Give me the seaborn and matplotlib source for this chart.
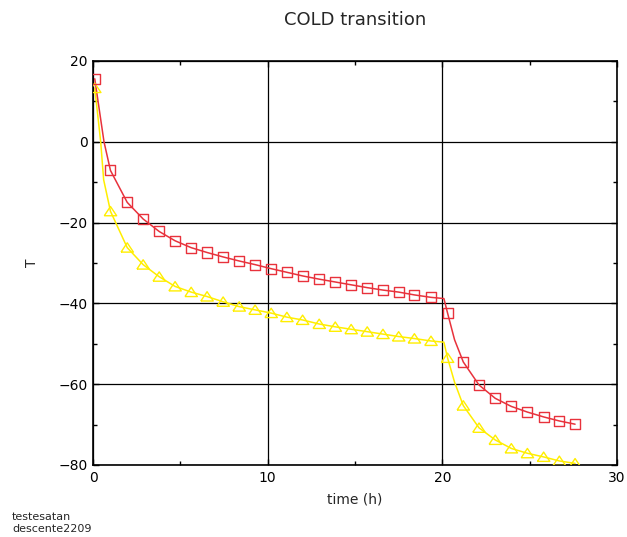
import numpy as np
import pandas as pd
import matplotlib
matplotlib.use("Agg")
import matplotlib.pyplot as plt
from matplotlib.ticker import MultipleLocator
import seaborn as sns

# marker sample times (h)
t_mark = [0.1, 1.0, 1.96, 2.87, 3.79, 4.7, 5.62, 6.53, 7.45, 8.37, 9.28, 10.2, 11.1, 12.0,
          12.95, 13.87, 14.78, 15.7, 16.6, 17.5, 18.4, 19.35, 20.3, 21.2, 22.1, 23.03,
          23.95, 24.87, 25.8, 26.7, 27.6]
red_mark = [15.6, -7.1, -15.0, -19.1, -22.2, -24.5, -26.2, -27.4, -28.5, -29.5, -30.4,
            -31.4, -32.3, -33.2, -34.0, -34.7, -35.4, -36.1, -36.7, -37.2, -37.9, -38.5,
            -42.4, -54.5, -60.2, -63.5, -65.5, -66.9, -68.1, -69.1, -69.9]
yel_mark = [13.3, -17.2, -26.2, -30.4, -33.4, -35.8, -37.2, -38.3, -39.6, -40.8, -41.6,
            -42.4, -43.4, -44.1, -45.1, -45.8, -46.4, -47.0, -47.6, -48.2, -48.7, -49.3,
            -53.5, -65.3, -70.8, -73.8, -75.9, -77.1, -78.0, -79.0, -79.6]

# extra points (between markers)
red_extra_t = [0.63, 20.09, 20.7]
red_extra_v = [0.0, -38.8, -49.0]
yel_extra_t = [0.44, 0.61, 20.09, 20.7]
yel_extra_v = [0.0, -9.4, -49.6, -59.5]

title = "COLD transition"
xlabel = "time (h)"
ylabel = "T"
footer = ["testesatan", "descente2209"]

RED = "#e8323c"
YEL = "#ffee00"

red_line = pd.DataFrame({"t": t_mark + red_extra_t, "v": red_mark + red_extra_v}).sort_values("t")
yel_line = pd.DataFrame({"t": t_mark + yel_extra_t, "v": yel_mark + yel_extra_v}).sort_values("t")

sns.set_style("white")
plt.rcParams["font.family"] = ["DejaVu Sans"]

fig = plt.figure(figsize=(6.27, 5.37), dpi=100)
ax = fig.add_axes([93/627, 1-465/537, (617-93)/627, (465-61)/537])

sns.lineplot(data=yel_line, x="t", y="v", ax=ax, color=YEL, lw=1.1, sort=False, zorder=3)
sns.lineplot(data=red_line, x="t", y="v", ax=ax, color=RED, lw=1.1, sort=False, zorder=4)

tri = [(-1, -0.72), (1, -0.72), (0, 0.78), (-1, -0.72)]
sns.scatterplot(x=t_mark, y=yel_mark, ax=ax, marker=tri, s=80, facecolor="none",
                edgecolor=YEL, linewidth=1.0, zorder=5)
sns.scatterplot(x=t_mark, y=red_mark, ax=ax, marker="s", s=52, facecolor="none",
                edgecolor=RED, linewidth=1.0, zorder=6)

ax.set_xlim(0, 30)
ax.set_ylim(-80, 20)
ax.xaxis.set_major_locator(MultipleLocator(10))
ax.xaxis.set_minor_locator(MultipleLocator(5))
ax.yaxis.set_major_locator(MultipleLocator(20))
ax.yaxis.set_minor_locator(MultipleLocator(10))
ax.grid(True, which="major", color="black", lw=0.9)
ax.set_axisbelow(True)
for s in ax.spines.values():
    s.set_color("black")
    s.set_linewidth(1.2)
ax.tick_params(which="both", direction="in", top=True, right=True, bottom=True, left=True,
               colors="black", labelsize=10, width=1)
ax.tick_params(which="major", length=4.5, pad=4)
ax.tick_params(which="minor", length=3)

ax.set_xlabel(xlabel, fontsize=10, labelpad=6)
ax.set_ylabel(ylabel, fontsize=10, labelpad=14)
ax.set_title(title, fontsize=13, pad=26)

fig.text(12/627, 1-517/537, footer[0], fontsize=8, va="center", ha="left")
fig.text(12/627, 1-529/537, footer[1], fontsize=8, va="center", ha="left")

fig.savefig("out.png", dpi=100)
